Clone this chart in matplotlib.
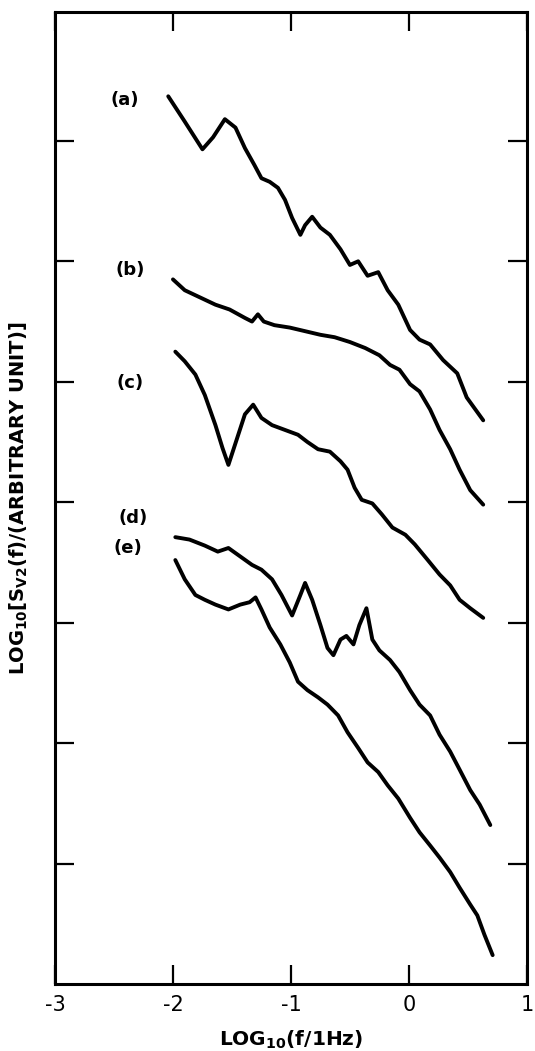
import matplotlib
matplotlib.use("Agg")
import matplotlib.pyplot as plt

# Spectra (log10 f, log10 S)
a_x = [-2.04, -1.90, -1.75, -1.66, -1.56, -1.47, -1.39, -1.31, -1.25, -1.18, -1.11, -1.05, -0.99, -0.92, -0.88, -0.82, -0.75, -0.67, -0.58, -0.50, -0.43, -0.35, -0.26, -0.18, -0.09, 0.01, 0.09, 0.18, 0.29, 0.41, 0.49, 0.63]
a_y = [7.37, 7.16, 6.93, 7.03, 7.18, 7.11, 6.94, 6.80, 6.69, 6.66, 6.61, 6.51, 6.36, 6.22, 6.30, 6.37, 6.28, 6.22, 6.10, 5.97, 6.00, 5.88, 5.91, 5.76, 5.64, 5.43, 5.35, 5.31, 5.18, 5.07, 4.87, 4.68]

b_x = [-2.00, -1.90, -1.77, -1.64, -1.52, -1.39, -1.33, -1.28, -1.23, -1.14, -1.01, -0.88, -0.75, -0.63, -0.50, -0.37, -0.25, -0.16, -0.08, 0.01, 0.09, 0.18, 0.26, 0.35, 0.43, 0.52, 0.63]
b_y = [5.85, 5.76, 5.70, 5.64, 5.60, 5.53, 5.50, 5.56, 5.50, 5.47, 5.45, 5.42, 5.39, 5.37, 5.33, 5.28, 5.22, 5.14, 5.10, 4.98, 4.92, 4.77, 4.60, 4.44, 4.27, 4.10, 3.98]

c_x = [-1.98, -1.90, -1.81, -1.73, -1.64, -1.58, -1.53, -1.46, -1.39, -1.32, -1.25, -1.16, -1.05, -0.94, -0.86, -0.77, -0.67, -0.58, -0.52, -0.46, -0.40, -0.31, -0.23, -0.14, -0.03, 0.05, 0.16, 0.26, 0.35, 0.43, 0.52, 0.63]
c_y = [5.25, 5.17, 5.06, 4.89, 4.64, 4.45, 4.31, 4.52, 4.73, 4.81, 4.70, 4.64, 4.60, 4.56, 4.50, 4.44, 4.42, 4.34, 4.27, 4.12, 4.02, 3.99, 3.90, 3.79, 3.73, 3.65, 3.52, 3.40, 3.31, 3.19, 3.12, 3.04]

d_x = [-1.98, -1.86, -1.73, -1.62, -1.53, -1.43, -1.33, -1.25, -1.16, -1.08, -0.99, -0.92, -0.88, -0.82, -0.75, -0.69, -0.64, -0.58, -0.53, -0.47, -0.42, -0.36, -0.31, -0.25, -0.16, -0.08, 0.01, 0.09, 0.18, 0.26, 0.35, 0.43, 0.52, 0.60, 0.69]
d_y = [3.71, 3.69, 3.64, 3.59, 3.62, 3.55, 3.48, 3.44, 3.36, 3.23, 3.06, 3.23, 3.33, 3.19, 2.98, 2.79, 2.73, 2.86, 2.89, 2.82, 2.98, 3.12, 2.86, 2.77, 2.69, 2.59, 2.44, 2.32, 2.23, 2.07, 1.93, 1.78, 1.61, 1.49, 1.32]

e_x = [-1.98, -1.90, -1.81, -1.73, -1.64, -1.53, -1.43, -1.35, -1.30, -1.25, -1.18, -1.09, -1.01, -0.94, -0.86, -0.77, -0.69, -0.60, -0.52, -0.43, -0.35, -0.26, -0.18, -0.09, 0.01, 0.09, 0.18, 0.26, 0.35, 0.43, 0.52, 0.58, 0.64, 0.71]
e_y = [3.52, 3.36, 3.23, 3.19, 3.15, 3.11, 3.15, 3.17, 3.21, 3.11, 2.96, 2.82, 2.67, 2.51, 2.44, 2.38, 2.32, 2.23, 2.09, 1.96, 1.84, 1.76, 1.65, 1.54, 1.38, 1.26, 1.15, 1.05, 0.93, 0.80, 0.66, 0.57, 0.41, 0.24]

curve_labels = ["(a)", "(b)", "(c)", "(d)", "(e)"]
label_x = [-2.41, -2.36, -2.36, -2.34, -2.38]
label_y = [7.34, 5.93, 4.99, 3.87, 3.62]

x_ticks = [-3, -2, -1, 0, 1]
x_ticklabels = ["-3", "-2", "-1", "0", "1"]
y_ticks = [1, 2, 3, 4, 5, 6, 7]

fig = plt.figure(figsize=(5.35, 10.51), dpi=100)
ax = fig.add_axes([0.1028, 0.0637, 0.882, 0.9249])

for xs, ys in [(a_x, a_y), (b_x, b_y), (c_x, c_y), (d_x, d_y), (e_x, e_y)]:
    ax.plot(xs, ys, color="black", lw=2.8, solid_joinstyle="round", solid_capstyle="round")

for t, lx, ly in zip(curve_labels, label_x, label_y):
    ax.text(lx, ly, t, fontsize=13, fontweight="bold", ha="center", va="center",
            family="DejaVu Sans")

ax.set_xlim(-3, 1)
ax.set_ylim(0, 8.07)
ax.set_xticks(x_ticks)
ax.set_xticklabels(x_ticklabels)
ax.set_yticks(y_ticks)
ax.set_yticklabels([])
ax.tick_params(axis="both", direction="in", length=14, width=1.6,
               top=True, right=True, labelsize=15, pad=8)
for s in ax.spines.values():
    s.set_linewidth(2.2)

ax.set_xlabel(r"LOG$_{\mathbf{10}}$(f/1Hz)", fontsize=14.5, fontweight="bold", labelpad=10)
ax.set_ylabel(r"LOG$_{\mathbf{10}}$[S$_{\mathbf{V2}}$(f)/(ARBITRARY UNIT)]", fontsize=14,
              fontweight="bold", labelpad=10)

fig.savefig("out.png", dpi=100)
